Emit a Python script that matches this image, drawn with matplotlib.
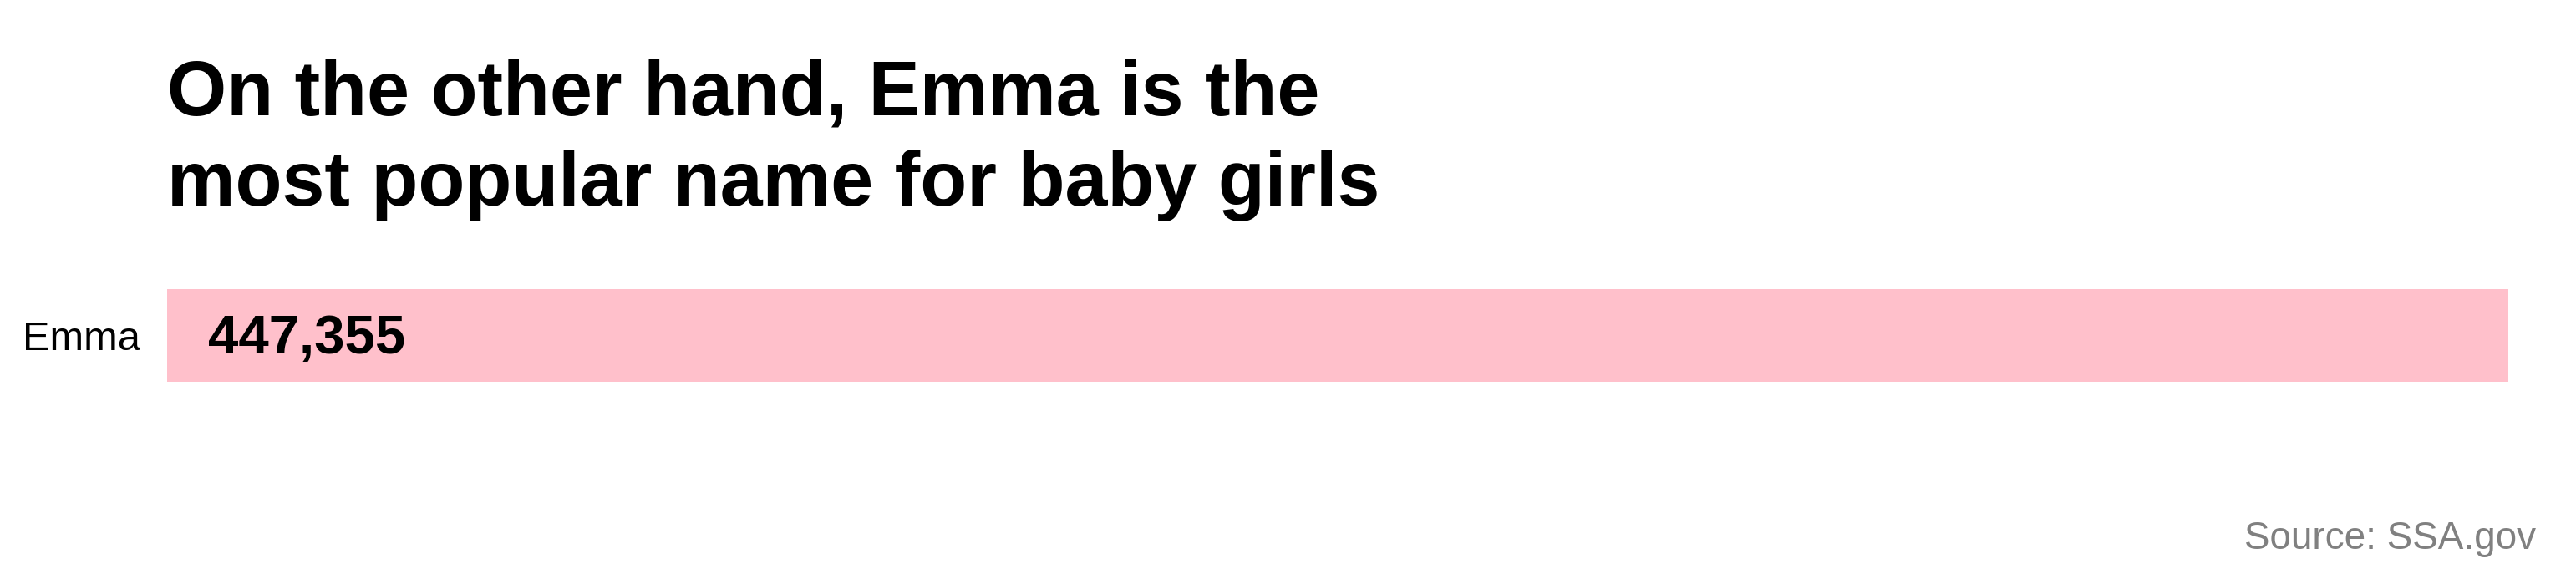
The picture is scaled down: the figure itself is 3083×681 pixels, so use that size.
import matplotlib.pyplot as plt

plt.rcParams['font.family'] = ['Liberation Sans', 'DejaVu Sans']

names = ['Emma']
counts = [447355]
title = 'On the other hand, Emma is the\nmost popular name for baby girls'
source = 'Source: SSA.gov'

fig = plt.figure(figsize=(30.83, 6.81), dpi=100)
ax = fig.add_axes([200 / 3083, 1 - 457 / 681, 2802 / 3083, 111 / 681])

ax.barh(names, counts, height=0.8, color='pink')
ax.set_xlim(0, max(counts))
ax.set_ylim(-0.4, 0.4)

for i, v in enumerate(counts):
    ax.annotate(f'{v:,}', xy=(0, i), xytext=(35, -3), textcoords='offset points',
                va='center', ha='left', fontsize=47, fontweight='bold', color='black')

ax.tick_params(axis='y', length=0, pad=23, labelsize=35)
ax.set_xticks([])
for s in ax.spines.values():
    s.set_visible(False)

# va='baseline' lines up the last line of the title
fig.text(200 / 3083, 1 - 246 / 681, title, fontsize=66, fontweight='bold',
         ha='left', va='baseline', linespacing=1.34)
fig.text(3035 / 3083, 1 - 657 / 681, source, fontsize=33, color='#808080',
         ha='right', va='baseline')

fig.savefig('out.png', dpi=100, facecolor='white')
